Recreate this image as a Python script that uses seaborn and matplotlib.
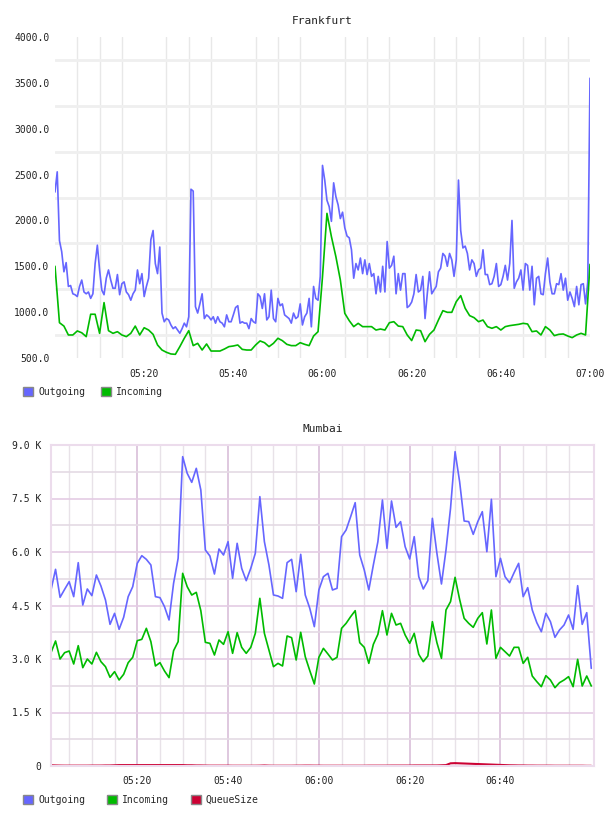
import matplotlib
matplotlib.use("Agg")
import matplotlib.pyplot as plt
import matplotlib.dates as mdates
from matplotlib.patches import Patch
import pandas as pd
import seaborn as sns

# Frankfurt, outgoing every 30 s from 05:00, incoming every minute from 05:00
frankfurt_out = [
    2310, 2530, 1780, 1660, 1440, 1540, 1280, 1290, 1200, 1190,
    1170, 1280, 1350, 1220, 1200, 1220, 1150, 1200, 1530, 1730,
    1460, 1240, 1190, 1370, 1460, 1350, 1260, 1260, 1410, 1190,
    1310, 1330, 1220, 1190, 1130, 1200, 1240, 1460, 1310, 1420,
    1170, 1280, 1370, 1790, 1890, 1530, 1420, 1710, 990, 895,
    930, 915, 860, 820, 840, 805, 770, 820, 880, 840,
    950, 2340, 2320, 1060, 990, 1090, 1200, 930, 970, 950,
    915, 950, 880, 950, 895, 880, 840, 970, 895, 895,
    970,
    1050, 1070, 880, 895, 880, 880, 820, 930, 895, 880,
    1200, 1170, 1040, 1200, 915, 950, 1240, 930, 895, 1150,
    1070, 1090, 970, 950, 930, 880, 990, 930, 950, 1090,
    860, 950, 990, 1150, 840, 1280, 1150, 1130, 1390, 2600,
    2440, 2220, 2150, 1990, 2410, 2260, 2170, 2020, 2090, 1920,
    1830, 1810, 1680, 1370, 1530, 1460, 1590, 1420, 1570, 1410,
    1530, 1390, 1420, 1200, 1390, 1220, 1500, 1220, 1770, 1480,
    1510, 1610, 1200, 1420, 1240, 1420, 1420, 1050, 1070, 1110,
    1200, 1410, 1220, 1240, 1390, 930, 1200, 1440, 1200, 1240,
    1280, 1440, 1480, 1640, 1610, 1500, 1640, 1570, 1390, 1570,
    2440, 1890, 1700, 1720, 1640, 1460, 1570, 1530, 1390, 1460,
    1480, 1680, 1410, 1410, 1300, 1310, 1390, 1530, 1280, 1300,
    1390, 1510, 1350, 1530, 2000, 1260, 1330, 1370, 1460, 1240,
    1530, 1510, 1240, 1500, 1080, 1370, 1390, 1200, 1190, 1420,
    1590, 1330, 1200, 1200, 1310, 1300, 1420, 1240, 1370, 1130,
    1220, 1150, 1060, 1280, 1080, 1300, 1310, 1090, 1330, 3550,
]
frankfurt_in = [
    1500, 885, 848, 751, 751, 795, 775, 733, 977, 977,
    769, 1104, 798, 769, 787, 751, 733, 769, 848, 751,
    830, 805, 758, 642, 587, 562, 544, 540, 624, 715,
    798, 635, 660, 587, 653, 576, 576, 576, 598, 624,
    631, 642, 594, 587, 587, 642, 686, 667, 624, 660,
    715, 689, 649, 635, 635, 667, 649, 635, 740, 787,
    1387, 2077, 1823, 1605, 1351, 987, 907, 842, 878, 842,
    842, 842, 805, 816, 805, 885, 896, 848, 842, 751,
    690, 805, 798, 678, 758, 805, 914, 1016, 998, 998,
    1114, 1180, 1042, 962, 940, 896, 914, 842, 824, 842,
    805, 842, 853, 860, 867, 878, 871, 787, 795, 751,
    842, 805, 744, 758, 762, 740, 722, 751, 769, 751,
    1521,
]

# Mumbai, every minute from 05:01 to 07:00
mumbai_out = [
    4935, 5514, 4729, 4953, 5168, 4748, 5701, 4514, 4963, 4776,
    5355, 5047, 4654, 3972, 4280, 3832, 4168, 4748, 5028, 5682,
    5897, 5794, 5636, 4748, 4720, 4467, 4094, 5122, 5822, 8673,
    8206, 7953, 8346, 7738, 6056, 5888, 5383, 6084, 5916, 6290,
    5262, 6243, 5542, 5196, 5542, 5963, 7552, 6290, 5636, 4795,
    4766, 4701, 5701, 5794, 4888, 5935, 4795, 4421, 3907, 4935,
    5308, 5402, 4935, 4981, 6430, 6617, 6991, 7383, 5916, 5495,
    4935, 5636, 6290, 7458, 6103, 7430, 6691, 6851, 6150, 5804,
    6430, 5308, 4963, 5196, 6944, 5963, 5103, 6056, 7225, 8813,
    7972, 6869, 6851, 6495, 6851, 7131, 6009, 7477, 5308, 5822,
    5308, 5140, 5421, 5682, 4748, 5000, 4374, 4019, 3766, 4280,
    4047, 3608, 3813, 3953, 4234, 3832, 5056, 3972, 4299, 2738,
]
mumbai_in = [
    3178, 3505, 3000, 3178, 3224, 2860, 3374, 2757, 3000, 2860,
    3187, 2925, 2785, 2486, 2645, 2411, 2570, 2897, 3047, 3514,
    3551, 3860, 3486, 2804, 2897, 2664, 2477, 3234, 3486, 5402,
    5028, 4794, 4869, 4355, 3467, 3439, 3112, 3533, 3411, 3766,
    3159, 3738, 3327, 3159, 3327, 3720, 4701, 3720, 3252, 2785,
    2878, 2804, 3645, 3598, 2972, 3748, 3065, 2673, 2299, 3047,
    3299, 3140, 2972, 3047, 3860, 4000, 4187, 4355, 3458, 3327,
    2878, 3411, 3692, 4355, 3673, 4280, 3953, 4000, 3673, 3439,
    3720, 3131, 2925, 3084, 4047, 3458, 3019, 4374, 4608, 5290,
    4673, 4140, 4000, 3888, 4140, 4299, 3421, 4374, 3019, 3327,
    3206, 3084, 3327, 3327, 2878, 3047, 2523, 2365, 2224, 2533,
    2411, 2196, 2336, 2411, 2505, 2224, 2991, 2243, 2523, 2243,
]
mumbai_queue = [
    20, 15, 12, 10, 10, 10, 10, 10, 10, 12,
    12, 12, 15, 15, 20, 25, 25, 25, 25, 25,
    25, 25, 25, 25, 25, 25, 25, 25, 25, 25,
    20, 20, 15, 15, 12, 10, 10, 10, 10, 10,
    8, 8, 8, 8, 8, 8, 10, 15, 10, 8,
    8, 8, 8, 8, 10, 10, 12, 12, 10, 10,
    8, 8, 8, 8, 8, 8, 8, 8, 8, 8,
    10, 10, 10, 10, 10, 12, 12, 12, 12, 12,
    15, 15, 15, 15, 15, 15, 20, 25, 75, 80,
    75, 70, 65, 60, 55, 50, 45, 40, 35, 30,
    25, 20, 18, 15, 15, 12, 12, 10, 10, 10,
    10, 8, 8, 8, 8, 8, 8, 8, 5, 5,
]

fra_out_t = pd.date_range("2024-01-01 05:00", periods=len(frankfurt_out), freq="30s")
fra_in_t = pd.date_range("2024-01-01 05:00", periods=len(frankfurt_in), freq="1min")
mum_t = pd.date_range("2024-01-01 05:01", periods=len(mumbai_out), freq="1min")

out_color = "#6666ff"
in_color = "#00bb00"
queue_color = "#cc0033"
text_color = "#222222"

sns.set_theme(style="white")
plt.rcParams["font.family"] = ["DejaVu Sans Mono"]

W, H = 608, 816
fig = plt.figure(figsize=(W / 100, H / 100), dpi=100)


def box(l, t, r, b):
    return [l / W, 1 - b / H, (r - l) / W, (b - t) / H]


def ts(s):
    return pd.Timestamp("2024-01-01 " + s)


five_min = pd.date_range("2024-01-01 05:05", "2024-01-01 07:00", freq="5min")

# ---- Frankfurt
ax1 = fig.add_axes(box(55, 37, 590, 358))
sns.lineplot(x=fra_out_t, y=frankfurt_out, ax=ax1, color=out_color, lw=1.2)
sns.lineplot(x=fra_in_t, y=frankfurt_in, ax=ax1, color=in_color, lw=1.2)
ax1.set_xlim(ts("05:00"), ts("07:00"))
ax1.set_ylim(500, 4000)
ax1.set_yticks(range(500, 4001, 500))
ax1.set_yticklabels([f"{v:.1f}" for v in range(500, 4001, 500)])
ax1.set_yticks(range(750, 3751, 500), minor=True)
ax1.set_xticks([ts(s) for s in ["05:20", "05:40", "06:00", "06:20", "06:40", "07:00"]])
ax1.xaxis.set_major_formatter(mdates.DateFormatter("%H:%M"))
ax1.set_xticks(five_min, minor=True)
ax1.grid(False)
ax1.grid(which="minor", axis="y", color="#efefef", lw=2)
ax1.grid(which="minor", axis="x", color="#e8e8e8", lw=1)
ax1.set_axisbelow(True)
for sp in ax1.spines.values():
    sp.set_visible(False)
ax1.tick_params(which="both", length=0, labelsize=7, colors=text_color)
ax1.tick_params(axis="y", pad=4)
ax1.tick_params(axis="x", pad=8)
ax1.set_title("Frankfurt", fontsize=8, pad=9, color=text_color)
ax1.set_xlabel("")

# ---- Mumbai
ax2 = fig.add_axes(box(51, 445, 594, 766))
sns.lineplot(x=mum_t, y=mumbai_out, ax=ax2, color=out_color, lw=1.2)
sns.lineplot(x=mum_t, y=mumbai_in, ax=ax2, color=in_color, lw=1.2)
sns.lineplot(x=mum_t, y=mumbai_queue, ax=ax2, color=queue_color, lw=1.5)
ax2.set_xlim(ts("05:01"), ts("07:00") + pd.Timedelta(seconds=36))
ax2.set_ylim(0, 9000)
ax2.set_yticks(range(0, 9001, 1500))
ax2.set_yticklabels(["0"] + [f"{v / 1000:.1f} K" for v in range(1500, 9001, 1500)])
ax2.set_yticks(range(750, 9000, 1500), minor=True)
ax2.set_xticks([ts(s) for s in ["05:20", "05:40", "06:00", "06:20", "06:40"]])
ax2.xaxis.set_major_formatter(mdates.DateFormatter("%H:%M"))
ax2.set_xticks(five_min[:-1], minor=True)
ax2.grid(False)
ax2.grid(which="major", axis="y", color="#e4cce4", lw=1.2)
ax2.grid(which="minor", axis="y", color="#e4dae4", lw=1.2)
ax2.grid(which="major", axis="x", color="#dcc4dc", lw=1.3)
ax2.grid(which="minor", axis="x", color="#e8e2e8", lw=1)
ax2.set_axisbelow(True)
for sp in ax2.spines.values():
    sp.set_color("#ecdcec")
    sp.set_linewidth(1.5)
ax2.tick_params(which="both", length=0, labelsize=7, colors=text_color)
ax2.tick_params(axis="y", pad=7)
ax2.tick_params(axis="x", pad=7)
ax2.set_title("Mumbai", fontsize=8, pad=9, color=text_color)
ax2.set_xlabel("")

# ---- legends below each chart
leg_kw = dict(loc="center left", ncol=3, frameon=False, fontsize=7,
              handlelength=1.05, handleheight=1.05, handletextpad=0.5,
              borderaxespad=0, borderpad=0)
fig.legend(handles=[Patch(facecolor=out_color, edgecolor="#888888", label="Outgoing"),
                    Patch(facecolor=in_color, edgecolor="#888888", label="Incoming")],
           bbox_to_anchor=(23 / W, 1 - 392 / H), columnspacing=1.65, **leg_kw)
fig.legend(handles=[Patch(facecolor=out_color, edgecolor="#888888", label="Outgoing"),
                    Patch(facecolor=in_color, edgecolor="#888888", label="Incoming"),
                    Patch(facecolor=queue_color, edgecolor="#888888", label="QueueSize")],
           bbox_to_anchor=(23 / W, 1 - 800 / H), columnspacing=2.25, **leg_kw)

fig.savefig("out.png", dpi=100)
